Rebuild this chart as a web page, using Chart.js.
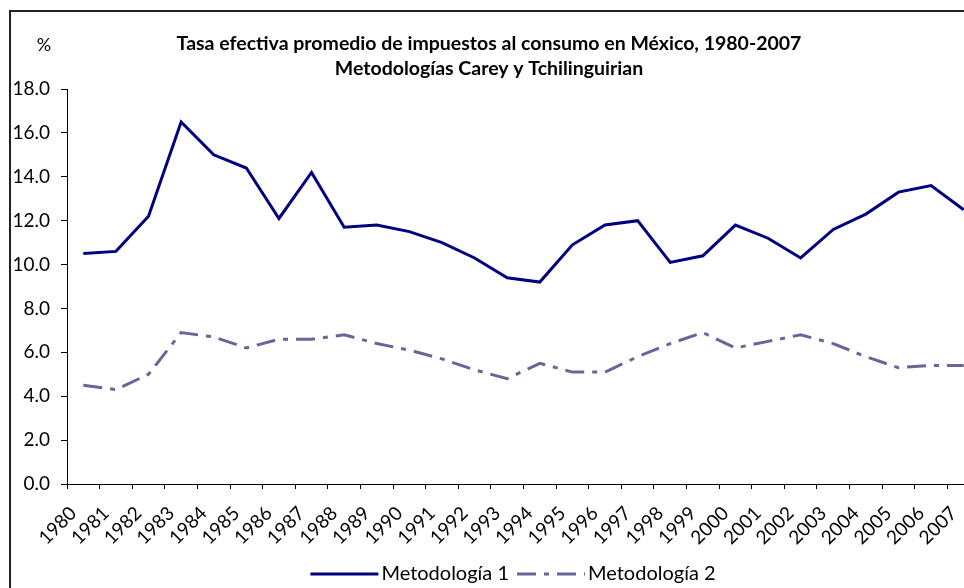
<!DOCTYPE html>
<html lang="es">
<head>
<meta charset="utf-8">
<title>Tasa efectiva promedio de impuestos al consumo en México</title>
<script src="https://cdn.jsdelivr.net/npm/chart.js@4.4.1/dist/chart.umd.min.js"></script>
<style>
    html, body { margin: 0; padding: 0; background: #ffffff; overflow: hidden; }
    #grafica { display: block; }
</style>
</head>
<body>
<canvas id="grafica" width="1000" height="588"></canvas>
<script>
// Años de la serie
const anios = ['1980', '1981', '1982', '1983', '1984', '1985', '1986', '1987', '1988', '1989',
    '1990', '1991', '1992', '1993', '1994', '1995', '1996', '1997', '1998', '1999',
    '2000', '2001', '2002', '2003', '2004', '2005', '2006', '2007'];

// Tasa efectiva (%) - Metodología 1
const metodologia1 = [10.5, 10.6, 12.2, 16.5, 15.0, 14.4, 12.1, 14.2, 11.7, 11.8,
    11.5, 11.0, 10.3, 9.4, 9.2, 10.9, 11.8, 12.0, 10.1, 10.4,
    11.8, 11.2, 10.3, 11.6, 12.3, 13.3, 13.6, 12.5];

// Tasa efectiva (%) - Metodología 2
const metodologia2 = [4.5, 4.3, 5.0, 6.9, 6.7, 6.2, 6.6, 6.6, 6.8, 6.4,
    6.1, 5.7, 5.2, 4.8, 5.5, 5.1, 5.1, 5.8, 6.4, 6.9,
    6.2, 6.5, 6.8, 6.4, 5.8, 5.3, 5.4, 5.4];

// Textos del encabezado
const titulo1 = 'Tasa efectiva promedio de impuestos al consumo en México, 1980-2007';
const titulo2 = 'Metodologías Carey y Tchilinguirian';
const unidad = '%';

const fuente = 'Lato';

// Marco, encabezado y leyenda dibujados a mano (no van centrados en el canvas)
const encabezado = {
    id: 'encabezado',
    afterDraw(chart) {
        const ctx = chart.ctx;
        ctx.save();
        ctx.strokeStyle = '#222222';
        ctx.lineWidth = 2;
        ctx.beginPath();
        ctx.moveTo(10, 600);
        ctx.lineTo(10, 11);
        ctx.lineTo(1010, 11);
        ctx.stroke();

        ctx.fillStyle = '#000000';
        ctx.textAlign = 'center';
        ctx.textBaseline = 'middle';
        ctx.font = 'bold 19.5px ' + fuente;
        ctx.fillText(titulo1, 489, 44);
        ctx.fillText(titulo2, 489, 69);
        ctx.font = '18px ' + fuente;
        ctx.fillText(unidad, 44, 45);

        // leyenda: muestra de linea + nombre de cada serie
        const y = 574;
        const muestra = 68;
        const huecos = [3, 8, 8];
        ctx.font = '20px ' + fuente;
        ctx.textAlign = 'left';
        const series = chart.data.datasets;
        const anchos = series.map(d => ctx.measureText(d.label).width);
        const total = muestra * 2 + anchos[0] + anchos[1] + huecos[0] * 2 + huecos[1];
        let x = 513 - total / 2;
        series.forEach((d, i) => {
            ctx.strokeStyle = d.borderColor;
            ctx.lineWidth = d.borderWidth;
            ctx.setLineDash(d.borderDash || []);
            ctx.beginPath();
            ctx.moveTo(x, y);
            ctx.lineTo(x + muestra, y);
            ctx.stroke();
            ctx.setLineDash([]);
            x += muestra + huecos[0];
            ctx.fillText(d.label, x, y);
            x += anchos[i] + huecos[1];
        });
        ctx.restore();
    }
};

const ctx = document.getElementById('grafica').getContext('2d');
new Chart(ctx, {
    type: 'line',
    data: {
        labels: anios,
        datasets: [
            {
                label: 'Metodología 1',
                data: metodologia1,
                borderColor: '#000080',
                backgroundColor: '#000080',
                borderWidth: 3,
                pointRadius: 0,
                tension: 0
            },
            {
                label: 'Metodología 2',
                data: metodologia2,
                borderColor: '#666699',
                backgroundColor: '#666699',
                borderWidth: 3,
                borderDash: [19, 8, 5, 8],
                pointRadius: 0,
                tension: 0
            }
        ]
    },
    options: {
        responsive: false,
        animation: false,
        layout: {
            padding: { left: 0, right: 20, top: 89, bottom: 0 }
        },
        plugins: {
            title: { display: false },
            tooltip: { enabled: false },
            legend: { display: false }
        },
        scales: {
            x: {
                type: 'category',
                offset: true,
                afterFit: function (scale) { scale.height = 104; },
                grid: {
                    offset: true,
                    drawOnChartArea: false,
                    drawTicks: true,
                    tickLength: 5,
                    color: '#000000'
                },
                border: { display: true, color: '#000000', width: 1 },
                ticks: {
                    autoSkip: false,
                    maxRotation: 45,
                    minRotation: 45,
                    labelOffset: -10,
                    padding: 13,
                    color: '#000000',
                    font: { family: fuente, size: 19 }
                }
            },
            y: {
                min: 0,
                max: 18,
                afterFit: function (scale) { scale.width = 67; },
                grid: {
                    drawOnChartArea: false,
                    drawTicks: true,
                    tickLength: 6,
                    color: '#000000'
                },
                border: { display: true, color: '#000000', width: 1 },
                ticks: {
                    stepSize: 2,
                    padding: 11,
                    color: '#000000',
                    font: { family: fuente, size: 19 },
                    callback: function (valor) { return valor.toFixed(1); }
                }
            }
        }
    },
    plugins: [encabezado]
});
</script>
</body>
</html>
